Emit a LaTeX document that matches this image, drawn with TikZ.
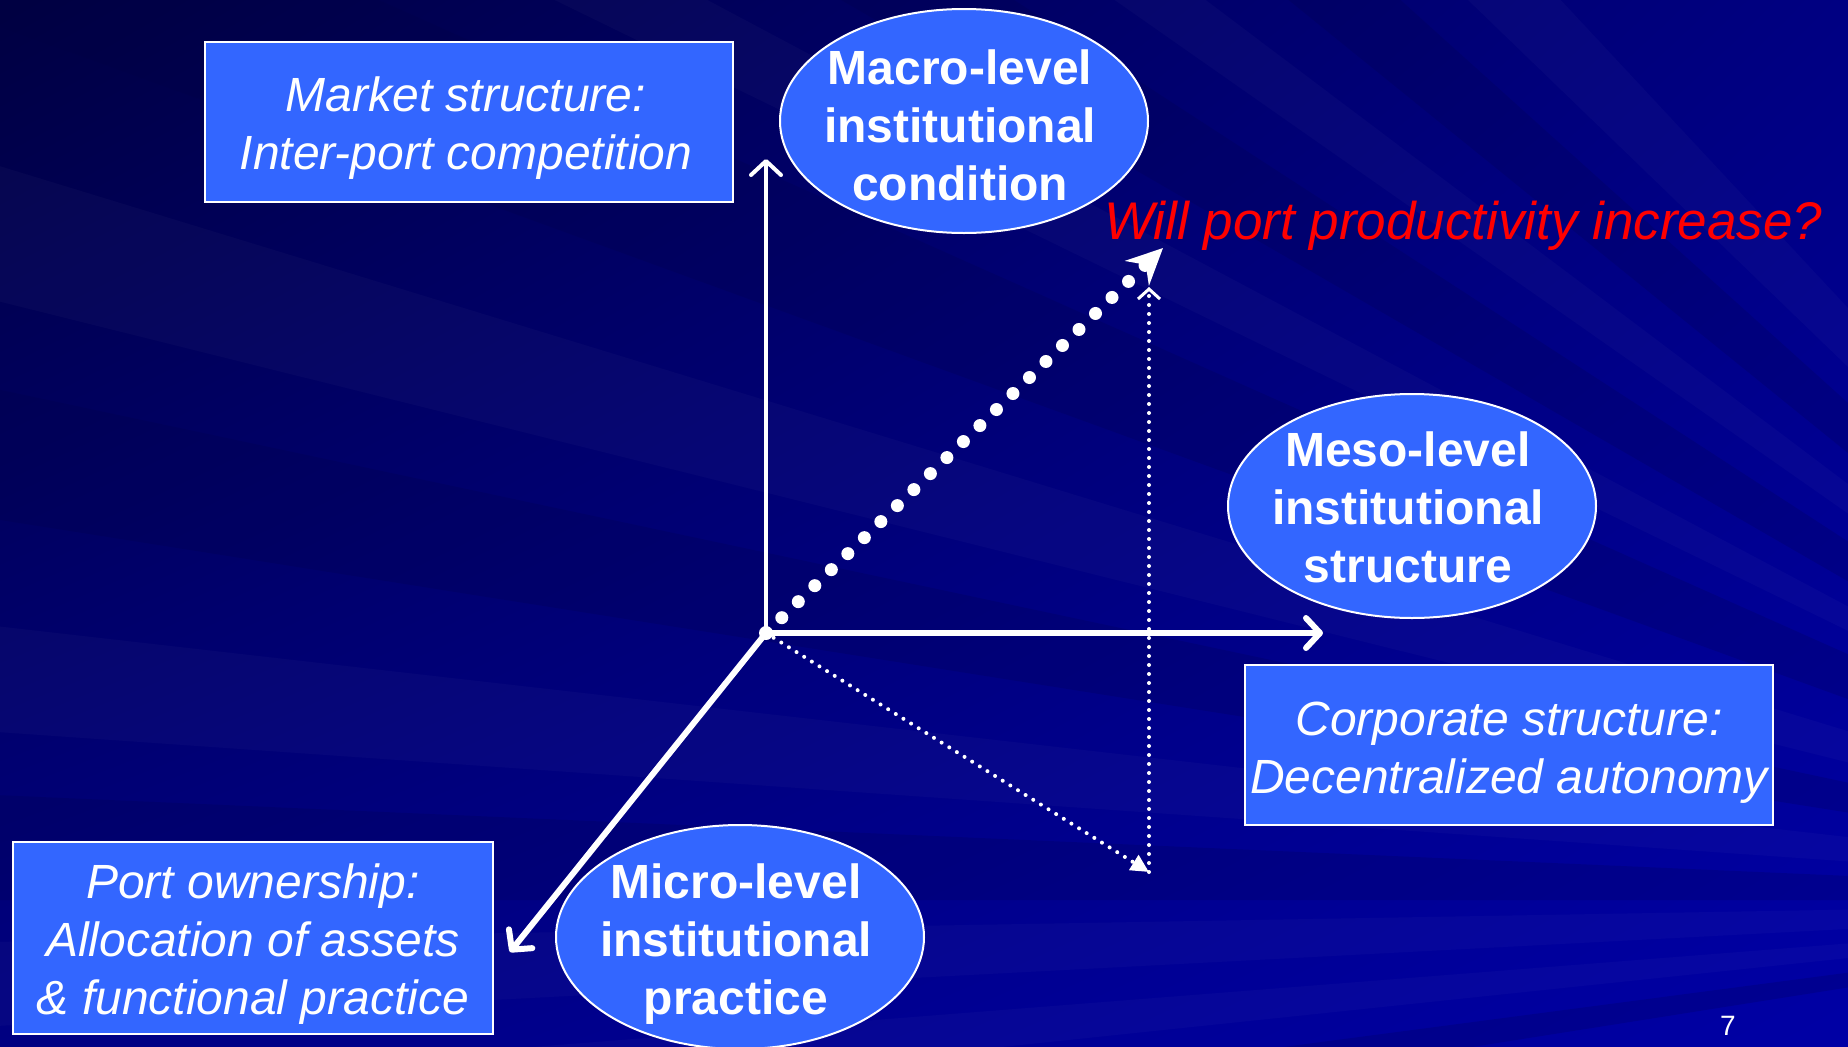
\documentclass[tikz,border=0pt]{standalone}
\usepackage{fontspec}
\setmainfont{Liberation Sans}
\usepackage{tikz}
\usetikzlibrary{arrows.meta}
\usetikzlibrary{shapes.geometric}
\usetikzlibrary{shadings}

\definecolor{slidenavy}{RGB}{0,0,66}
\definecolor{slidemid}{RGB}{0,0,130}
\definecolor{slidelow}{RGB}{0,0,130}
\definecolor{slideright}{RGB}{0,0,165}
\definecolor{boxblue}{RGB}{51,102,255}

\tikzset{
  levelbox/.style={draw=white, line width=2pt, fill=boxblue, minimum width=528pt,
    minimum height=160pt, inner sep=0pt},
  boxtext/.style={text=white, align=center, inner sep=0pt,
    font=\fontsize{48}{58}\selectfont\itshape},
  levelnode/.style={ellipse, draw=white, line width=2pt, fill=boxblue,
    minimum width=368pt, minimum height=224pt, inner sep=0pt},
  leveltext/.style={text=white, align=center, inner sep=0pt, xshift=-4pt,
    font=\fontsize{48}{58}\selectfont\bfseries},
  axisarrow/.style={white, line width=6pt, line cap=round,
    -{Straight Barb[length=14pt,width=30pt,round]}},
  dotline/.style={white, line width=4pt, line cap=round, dash pattern=on 0pt off 9pt},
}

\begin{document}
\begin{tikzpicture}[x=1pt,y=-1pt]
	\clip (0,0) rectangle (1848,1047);
	\shade[upper left=slidenavy, upper right=slidemid, lower left=slidelow, lower right=slideright]
		(0,0) rectangle (1848,1047);
	\coordinate (fan) at (2400,900);
	\foreach \a/\b in {174/175.5, 177/179, 184/186.5, 194/197, 206/208, 215/217, 224/227} {
		\fill[white, opacity=.025] (fan) -- +(\a:3600) -- +(\b:3600) -- cycle;
	}
	\foreach \a/\b in {171/172.5, 180/182.5, 189/192, 200/204, 210/213, 219/222} {
		\fill[slidenavy, opacity=.18] (fan) -- +(\a:3600) -- +(\b:3600) -- cycle;
	}

	\coordinate (O) at (766,633);
	\coordinate (zTip) at (766,159);
	\coordinate (xTip) at (1323,633);
	\coordinate (yTip) at (510,952);
	\coordinate (pTip) at (1163,248);
	\coordinate (pBase) at (1149,872);
	\coordinate (pTop) at (1149,287);

	\draw[axisarrow, line width=4pt] (O) -- (zTip);
	\draw[axisarrow] (O) -- (xTip);
	\draw[axisarrow] (O) -- (yTip);
	\draw[dotline, -{Triangle[length=18pt,width=17pt]}] (O) -- (pBase);
	\draw[dotline, -{Straight Barb[length=10pt,width=22pt,line width=3pt]}] (pBase) -- (pTop);
	\draw[white, line width=13pt, line cap=round, dash pattern=on 0pt off 23pt, shorten <=22pt,
		-{Stealth[length=36pt,width=34pt,inset=12pt]}] (O) -- (pTip);
	\fill[white] (O) circle (7pt);

	\node[levelbox, label={[boxtext, yshift=-6pt, xshift=-3pt]center:Market structure:\\Inter-port competition}]
		(market) at (469,122) {};
	\node[levelbox, label={[boxtext, yshift=-8pt]center:Corporate structure:\\Decentralized autonomy}]
		(corporate) at (1509,745) {};
	\node[levelbox, minimum width=480pt, minimum height=192pt,
		label={[boxtext, yshift=-6pt]center:Port ownership:\\Allocation of assets\\\& functional practice}]
		(ownership) at (253,938) {};

	\node[levelnode, label={[leveltext, yshift=-4pt]center:Macro-level\\institutional\\condition}] (macro) at (964,121) {};
	\node[levelnode, label={[leveltext, yshift=-1pt]center:Meso-level\\institutional\\structure}] (meso) at (1412,506) {};
	\node[levelnode, label={[leveltext, yshift=-7pt]center:Micro-level\\institutional\\practice}] (micro) at (740,937) {};

	\node[anchor=base west, inner sep=0pt, text=red, font=\fontsize{53}{60}\selectfont\itshape]
		(question) at (1104,239) {Will port productivity increase?};
	\node[anchor=north, inner sep=0pt, text=white, font=\fontsize{28}{28}\selectfont] (pagenum) at (1728,1016) {7};
\end{tikzpicture}
\end{document}
